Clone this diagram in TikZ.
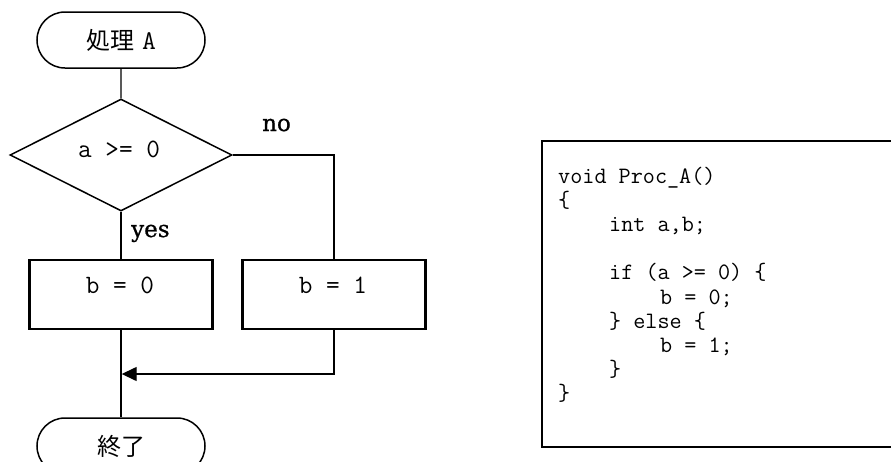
\documentclass[tikz,border=0pt]{standalone}
\usepackage{fontspec}
\setmainfont{DejaVu Serif}
\newfontfamily\cjk{Noto Sans CJK JP}
\newfontfamily\branchfont[FakeBold=0.8]{DejaVu Serif}
\usetikzlibrary{shapes.geometric,shapes.misc,arrows.meta}

\tikzset{
  terminal/.style={rounded rectangle, draw, line width=1.5pt,
    minimum width=168pt, minimum height=56pt, inner sep=0pt,
    font=\fontsize{24}{28}\selectfont},
  decision/.style={diamond, draw, line width=1.5pt, aspect=2,
    minimum width=222pt, minimum height=112pt, inner sep=0pt},
  process/.style={rectangle, draw, line width=2.3pt,
    minimum width=183pt, minimum height=69pt, inner sep=0pt},
  boxtext/.style={font=\ttfamily\fontsize{26.5}{30}\selectfont,
    anchor=base, inner sep=0pt},
  branch/.style={font=\branchfont\fontsize{23}{27}\selectfont,
    anchor=base west, inner sep=0pt},
  flow/.style={line width=1.4pt},
  codeframe/.style={rectangle, draw, line width=2pt, inner sep=0pt},
  codeline/.style={font=\ttfamily\fontsize{23.5}{26}\selectfont,
    anchor=base west, inner sep=0pt}
}

\begin{document}
\begin{tikzpicture}[x=1pt, y=-1pt]
  \useasboundingbox (0,0) rectangle (891,461);
  \clip (0,0) rectangle (891,461);

  % flowchart
  \node[terminal] (start) at (121,40)
    {{\cjk 処理}\hspace{8pt}{\ttfamily\fontsize{27}{30}\selectfont A}};
  \node[decision] (cond) at (121,155) {};
  \node[boxtext] (condtext) at (119,157) {a >= 0};
  \node[process] (yesbox) at (121,294.5) {};
  \node[boxtext] (yestext) at (120,293) {b = 0};
  \node[process] (nobox) at (334,294.5) {};
  \node[boxtext] (notext) at (333,293) {b = 1};
  \node[terminal] (finish) at (121,446) {{\cjk 終了}};

  \node[branch] (nolabel) at (262,131) {no};
  \node[branch] (yeslabel) at (131,237) {yes};

  \coordinate (merge) at (121,374);

  \draw[flow] (start) -- (cond);
  \draw[flow] (cond.south) -- (cond.south |- yesbox.north);
  \draw[flow] (cond.east) -| (nobox.north);
  \draw[flow] (yesbox.south) -- (finish.north);
  \draw[flow, -{Triangle[length=15pt, width=14pt]}, shorten >=0.7pt]
    (nobox.south) |- (merge);

  % source listing
  \node[codeframe, anchor=north west, minimum width=460pt,
        minimum height=306pt] (listing) at (541,140) {};
  \node[codeline] (c1) at (558,183) {void Proc\_A()};
  \node[codeline] (c2) at (558,207.2) {\{};
  \node[codeline] (c3) at (609,231.4) {int a,b;};
  \node[codeline] (c5) at (609,279.8) {if (a >= 0) \{};
  \node[codeline] (c6) at (660,304) {b = 0;};
  \node[codeline] (c7) at (609,328.2) {\} else \{};
  \node[codeline] (c8) at (660,352.4) {b = 1;};
  \node[codeline] (c9) at (609,376.6) {\}};
  \node[codeline] (c10) at (558,400.8) {\}};
\end{tikzpicture}
\end{document}
